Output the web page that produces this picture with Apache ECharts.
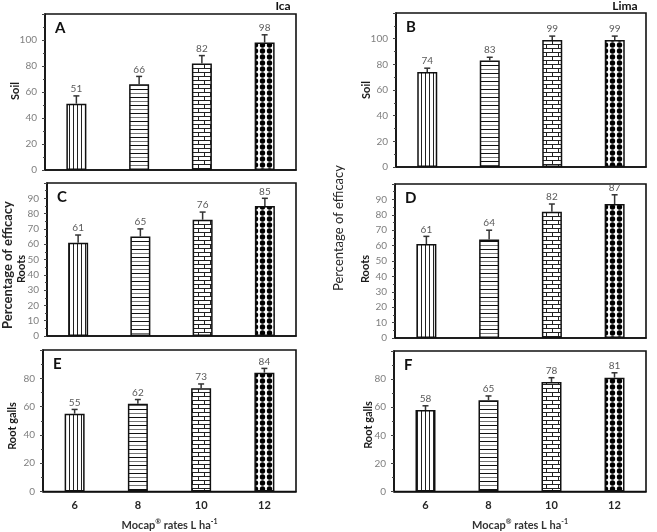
<!DOCTYPE html>
<html>
<head>
<meta charset="utf-8">
<script src="https://cdn.jsdelivr.net/npm/echarts@6/dist/echarts.min.js"></script>
<style>
  html, body { margin: 0; padding: 0; background: #fff; }
  #main { width: 657px; height: 532px; }
</style>
</head>
<body>
<div id="main"></div>
<script>
// Mocap rates (x categories)
var rates = ['6', '8', '10', '12'];

// Ica
var soilIca = [51, 66, 82, 98];
var soilIcaErr = [6, 6, 6, 6];
var rootsIca = [61, 65, 76, 85];
var rootsIcaErr = [5, 5, 5, 5];
var gallsIca = [55, 62, 73, 84];
var gallsIcaErr = [3, 3, 3, 3];

// Lima
var soilLima = [74, 83, 99, 99];
var soilLimaErr = [3, 2.5, 3, 3];
var rootsLima = [61, 64, 82, 87];
var rootsLimaErr = [5, 6, 5, 6];
var gallsLima = [58, 65, 78, 81];
var gallsLimaErr = [3, 3, 3, 3.5];

var FONT = 'Lato, "Open Sans", sans-serif';

// fill patterns, one per rate
function makePattern(kind) {
  var c = document.createElement('canvas');
  var ctx;
  if (kind === 'vlines') {
    c.width = 4; c.height = 4;
    ctx = c.getContext('2d');
    ctx.fillStyle = '#fff'; ctx.fillRect(0, 0, 4, 4);
    ctx.fillStyle = '#222'; ctx.fillRect(1, 0, 1, 4);
  } else if (kind === 'hlines') {
    c.width = 4; c.height = 8;
    ctx = c.getContext('2d');
    ctx.fillStyle = '#fff'; ctx.fillRect(0, 0, 4, 8);
    ctx.fillStyle = '#111'; ctx.fillRect(0, 1, 4, 1);
    ctx.fillStyle = '#777'; ctx.fillRect(0, 5, 4, 1);
  } else if (kind === 'brick') {
    c.width = 12; c.height = 8;
    ctx = c.getContext('2d');
    ctx.fillStyle = '#fff'; ctx.fillRect(0, 0, 12, 8);
    ctx.fillStyle = '#222';
    ctx.fillRect(0, 0, 12, 1);
    ctx.fillRect(0, 4, 12, 1);
    ctx.fillRect(0, 0, 1, 4);
    ctx.fillRect(6, 4, 1, 4);
  } else {
    c.width = 7; c.height = 6;
    ctx = c.getContext('2d');
    ctx.fillStyle = '#fff'; ctx.fillRect(0, 0, 7, 6);
    ctx.fillStyle = '#000';
    ctx.beginPath(); ctx.arc(3.5, 3, 2.7, 0, Math.PI * 2); ctx.fill();
  }
  return { image: c, repeat: 'repeat' };
}
var patterns = [makePattern('vlines'), makePattern('hlines'), makePattern('brick'), makePattern('dots')];

var panels = [
  { letter: 'A', values: soilIca, err: soilIcaErr, yName: 'Soil', max: 120, interval: 20,
    grid: { left: 45, top: 14, width: 251, height: 156 }, namePos: [15, 91], bottom: false },
  { letter: 'B', values: soilLima, err: soilLimaErr, yName: 'Soil', max: 120, interval: 20,
    grid: { left: 396, top: 13, width: 250, height: 154 }, namePos: [366, 90], bottom: false },
  { letter: 'C', values: rootsIca, err: rootsIcaErr, yName: 'Roots', max: 100, interval: 10,
    grid: { left: 47, top: 183, width: 249, height: 153 }, namePos: [21, 269], bottom: false },
  { letter: 'D', values: rootsLima, err: rootsLimaErr, yName: 'Roots', max: 100, interval: 10,
    grid: { left: 395, top: 184, width: 251, height: 154 }, namePos: [365, 269], bottom: false },
  { letter: 'E', values: gallsIca, err: gallsIcaErr, yName: 'Root galls', max: 100, interval: 20,
    grid: { left: 43, top: 350, width: 253, height: 148 }, namePos: [12, 426], bottom: true },
  { letter: 'F', values: gallsLima, err: gallsLimaErr, yName: 'Root galls', max: 100, interval: 20,
    grid: { left: 394, top: 351, width: 252, height: 147 }, namePos: [368, 425], bottom: true }
];

var grids = [], xAxes = [], yAxes = [], series = [], graphics = [];

panels.forEach(function (p, k) {
  grids.push({
    left: p.grid.left, top: p.grid.top, width: p.grid.width, height: p.grid.height,
    show: true, borderColor: '#111', borderWidth: 1.6, backgroundColor: 'transparent'
  });
  xAxes.push({
    gridIndex: k, type: 'category', data: rates,
    axisLine: { lineStyle: { color: '#111', width: 1.6 } },
    axisTick: { show: false },
    axisLabel: { show: p.bottom, color: '#262626', fontWeight: 'bold', fontSize: 11, fontFamily: FONT, margin: 8 },
    name: p.bottom ? 'Mocap{sup|®} rates L ha{sup|-1}' : '',
    nameLocation: 'middle', nameGap: 27,
    nameTextStyle: {
      color: '#333', fontSize: 11, fontWeight: 'bold', fontFamily: FONT,
      rich: { sup: { fontSize: 7, fontWeight: 'bold', color: '#333', fontFamily: FONT, verticalAlign: 'top', lineHeight: 14 } }
    }
  });
  yAxes.push({
    gridIndex: k, type: 'value', min: 0, max: p.max, interval: p.interval,
    axisLine: { show: true, lineStyle: { color: '#111', width: 1.6 } },
    axisTick: { show: true, length: 3, lineStyle: { color: '#444' } },
    minorTick: { show: true, splitNumber: 2, length: 2, lineStyle: { color: '#444' } },
    splitLine: { show: false },
    axisLabel: { showMaxLabel: false, color: '#7f7f7f', fontSize: 10, fontFamily: FONT, margin: 8 }
  });
  series.push({
    type: 'bar', xAxisIndex: k, yAxisIndex: k, barWidth: 20,
    data: p.values.map(function (v, i) {
      return { value: v, itemStyle: { color: patterns[i] } };
    }),
    itemStyle: { borderColor: '#111', borderWidth: 1.5 },
    silent: true
  });
  series.push({
    type: 'custom', xAxisIndex: k, yAxisIndex: k, z: 5,
    data: p.values.map(function (v, i) { return [i, v, p.err[i]]; }),
    encode: { x: 0, y: 1 },
    renderItem: function (params, api) {
      var i = api.value(0), v = api.value(1), e = api.value(2);
      var base = api.coord([i, v]);
      var top = api.coord([i, v + e]);
      return {
        type: 'group',
        children: [
          { type: 'line', shape: { x1: base[0], y1: base[1], x2: top[0], y2: top[1] },
            style: { stroke: '#333', lineWidth: 1.5 } },
          { type: 'line', shape: { x1: top[0] - 3, y1: top[1], x2: top[0] + 3, y2: top[1] },
            style: { stroke: '#333', lineWidth: 1.5 } },
          { type: 'text', x: top[0], y: top[1] - 2,
            style: { text: String(v), align: 'center', verticalAlign: 'bottom',
                     fill: '#595959', fontSize: 10, fontFamily: FONT } }
        ]
      };
    }
  });
  graphics.push({
    type: 'text', left: p.grid.left + 10, top: p.grid.top + 7,
    style: { text: p.letter, fill: '#111', fontSize: 15, fontWeight: 'bold', fontFamily: FONT }
  });
  // y-axis title
  graphics.push({
    type: 'text', x: p.namePos[0], y: p.namePos[1], rotation: Math.PI / 2,
    style: { text: p.yName, fill: '#1a1a1a', fontSize: 11, fontWeight: 'bold', fontFamily: FONT,
             align: 'center', verticalAlign: 'middle' }
  });
});

graphics.push({
  type: 'text', x: 283, y: 6,
  style: { text: 'Ica', fill: '#111', fontSize: 12, fontWeight: 'bold', fontFamily: FONT, align: 'center', verticalAlign: 'middle' }
});
graphics.push({
  type: 'text', x: 625, y: 6,
  style: { text: 'Lima', fill: '#111', fontSize: 12, fontWeight: 'bold', fontFamily: FONT, align: 'center', verticalAlign: 'middle' }
});
graphics.push({
  type: 'text', x: 8, y: 265, rotation: Math.PI / 2,
  style: { text: 'Percentage of efficacy', fill: '#262626', fontSize: 13, fontWeight: 'bold', fontFamily: FONT, align: 'center', verticalAlign: 'middle' }
});
graphics.push({
  type: 'text', x: 339, y: 228, rotation: Math.PI / 2,
  style: { text: 'Percentage of efficacy', fill: '#262626', fontSize: 13, fontFamily: FONT, align: 'center', verticalAlign: 'middle' }
});

var chart = echarts.init(document.getElementById('main'));
chart.setOption({
  animation: false,
  backgroundColor: '#fff',
  grid: grids,
  xAxis: xAxes,
  yAxis: yAxes,
  series: series,
  graphic: graphics
});
</script>
</body>
</html>
